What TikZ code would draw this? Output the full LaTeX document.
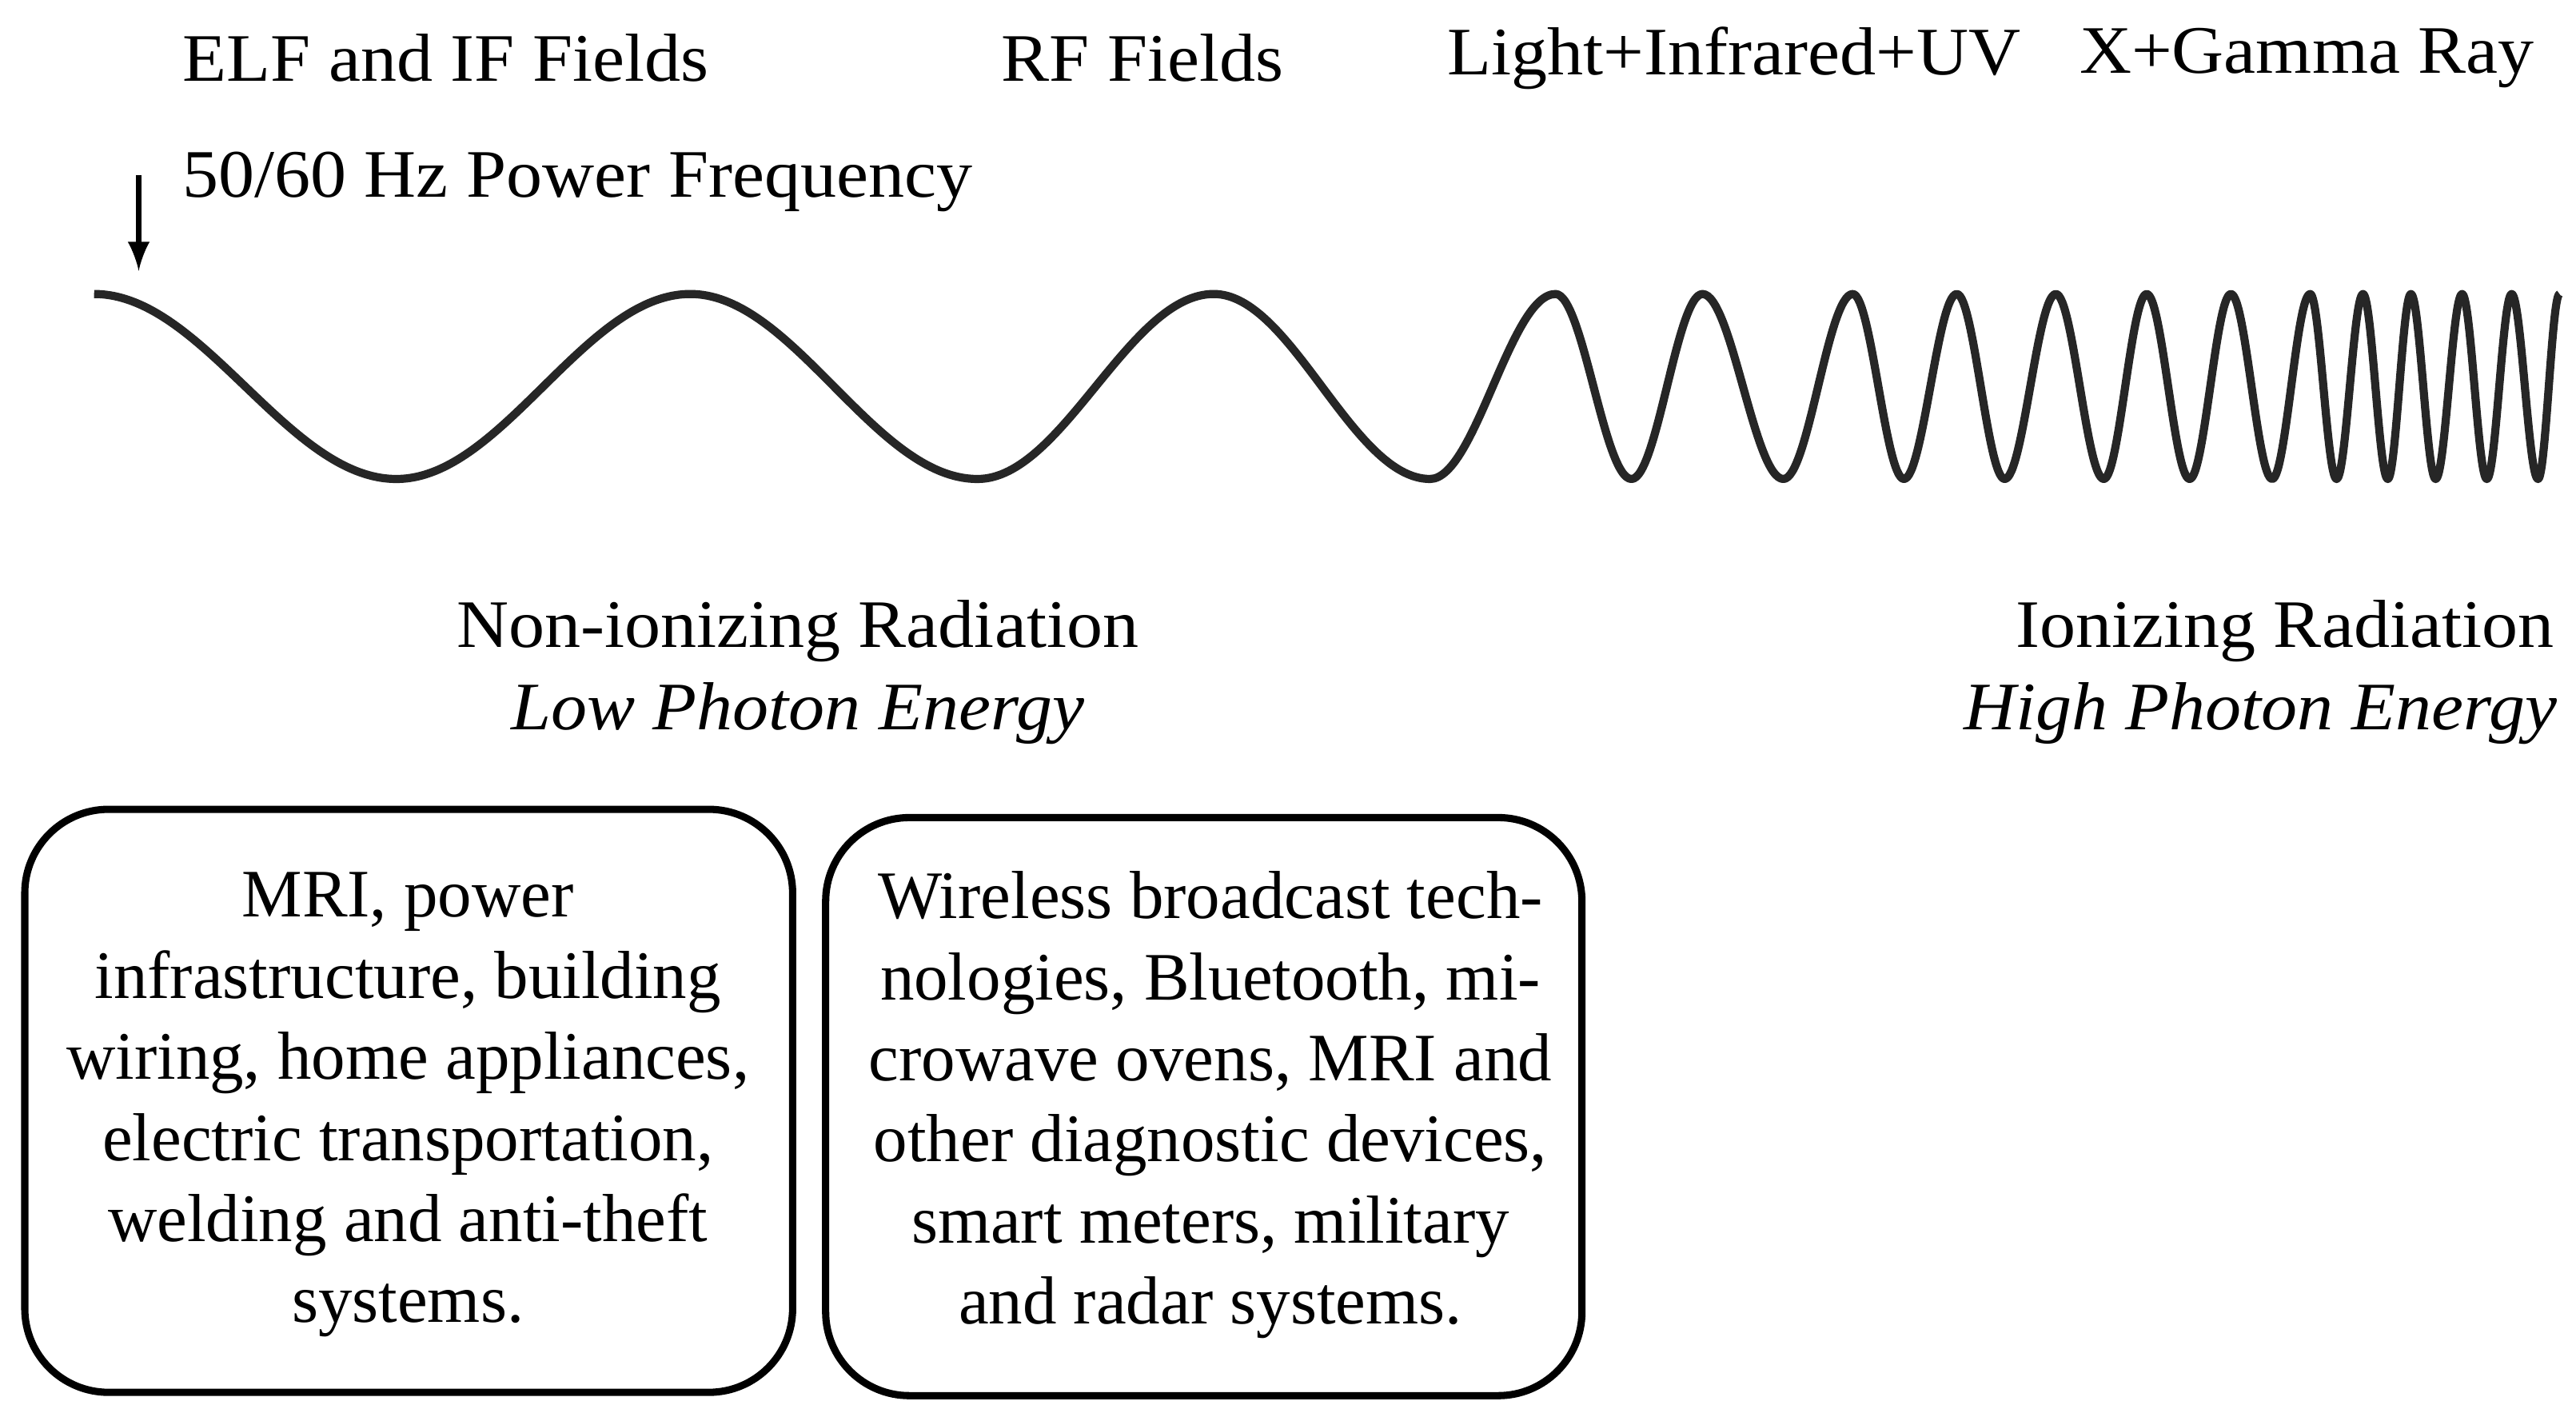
\documentclass[tikz,border=0pt]{standalone}
\usepackage{fontspec}
\setmainfont{Liberation Serif}
\newfontfamily\lblfont[FakeStretch=1.06]{Liberation Serif}
\begin{document}
\begin{tikzpicture}[x=0.01282cm,y=-0.01282cm,
  lbl/.style={font=\lblfont\fontsize{15}{18}\selectfont,inner sep=0pt},
  box/.style={draw,line width=1.6pt,rounded corners=0.65cm,inner sep=0pt},
  boxtxt/.style={font=\fontsize{15}{17.9}\selectfont,align=center,inner sep=0pt}]
\useasboundingbox (0,0) rectangle (1560,860);
\node[lbl] (elf) at (270,35) {ELF and IF Fields};
\node[lbl] (rf) at (692,35) {RF Fields};
\node[lbl] (lir) at (1050,35) {Light+Infrared+UV};
\node[lbl] (xg) at (1397,35) {X+Gamma Ray};
\node[lbl,anchor=west] (pf) at (110,110) {50/60 Hz Power Frequency};
\coordinate (a1) at (84,106);
\coordinate (a2) at (84,164);
\draw[line width=1.2pt,-latex] (a1) -- (a2);
\coordinate (w0) at (57,178);
\draw[line width=1.8pt,black!85,line join=round]
 (w0) .. controls (122.9,178) and (174.1,290) .. (240,290)
 .. controls (304.1,290) and (353.9,178) .. (418,178)
 .. controls (480.6,178) and (529.4,290) .. (592,290)
 .. controls (643.5,290) and (683.5,178) .. (735,178)
 .. controls (782.2,178) and (818.8,290) .. (866,290)
 .. controls (893.4,290) and (914.6,178) .. (942,178)
 .. controls (958.6,178) and (971.4,290) .. (988,290)
 .. controls (1003.5,290) and (1015.5,178) .. (1031,178)
 .. controls (1048.6,178) and (1062.4,290) .. (1080,290)
 .. controls (1095.1,290) and (1106.9,178) .. (1122,178)
 .. controls (1133.2,178) and (1141.8,290) .. (1153,290)
 .. controls (1164.5,290) and (1173.5,178) .. (1185,178)
 .. controls (1195.4,178) and (1203.6,290) .. (1214,290)
 .. controls (1225.2,290) and (1233.8,178) .. (1245,178)
 .. controls (1255.4,178) and (1263.6,290) .. (1274,290)
 .. controls (1283.4,290) and (1290.6,178) .. (1300,178)
 .. controls (1309.4,178) and (1316.6,290) .. (1326,290)
 .. controls (1335,290) and (1342,178) .. (1351,178)
 .. controls (1360,178) and (1367,290) .. (1376,290)
 .. controls (1384.3,290) and (1390.7,178) .. (1399,178)
 .. controls (1404.8,178) and (1409.2,290) .. (1415,290)
 .. controls (1420.8,290) and (1425.2,178) .. (1431,178)
 .. controls (1436.4,178) and (1440.6,290) .. (1446,290)
 .. controls (1451,290) and (1455,178) .. (1460,178)
 .. controls (1465.4,178) and (1469.6,290) .. (1475,290)
 .. controls (1480.8,290) and (1485.2,178) .. (1491,178)
 .. controls (1496.4,178) and (1500.6,290) .. (1506,290)
 .. controls (1511.4,290) and (1515.6,178) .. (1521,178)
 .. controls (1526.8,178) and (1531.2,290) .. (1537,290)
 .. controls (1541.7,290) and (1545.3,178) .. (1550,178);
\node[lbl] (ni) at (483,382) {Non-ionizing Radiation};
\node[lbl] (lpe) at (483,432) {\itshape Low Photon Energy};
\node[lbl,anchor=east] (ir) at (1547,382) {Ionizing Radiation};
\node[lbl,anchor=east] (hpe) at (1549,432) {\itshape High Photon Energy};
\draw[box] (15,490) rectangle (480,843);
\draw[box] (500,495) rectangle (958,845);
\node[boxtxt] (t1) at (247,669) {MRI, power\\infrastructure, building\\wiring, home appliances,\\electric transportation,\\welding and anti-theft\\systems.};
\node[boxtxt] (t2) at (733,669) {Wireless broadcast tech-\\nologies, Bluetooth, mi-\\crowave ovens, MRI and\\other diagnostic devices,\\smart meters, military\\and radar systems.};
\end{tikzpicture}
\end{document}
